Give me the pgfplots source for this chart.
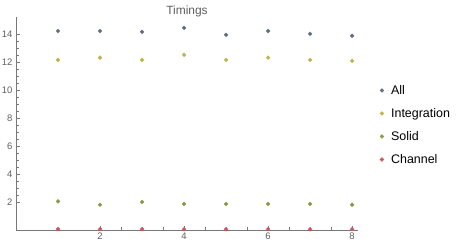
\documentclass[border=0pt]{standalone}
\usepackage{pgfplots}
\pgfplotsset{compat=1.18}
\usepackage{fontspec}
\setmainfont{Liberation Sans}
\definecolor{cAll}{RGB}{100,112,130}
\definecolor{cInt}{RGB}{192,180,75}
\definecolor{cSol}{RGB}{138,155,72}
\definecolor{cCha}{RGB}{205,85,95}
\definecolor{axgray}{RGB}{120,120,120}
\definecolor{txgray}{RGB}{95,95,95}
\begin{document}
\begin{tikzpicture}[x=1bp,y=1bp]
\useasboundingbox (-16bp,-18bp) rectangle (445bp,230bp);
\begin{axis}[
  at={(0,0)}, anchor=south west,
  scale only axis, width=342bp, height=213bp,
  xmin=0, xmax=8.14, ymin=0, ymax=15.2,
  axis x line=bottom, axis y line=left,
  axis line style={-, axgray, line width=0.6pt},
  xtick={2,4,6,8}, ytick={2,4,6,8,10,12,14},
  minor x tick num=3, minor y tick num=3,
  tick align=inside,
  major tick length=4bp, minor tick length=2.5bp,
  tick style={axgray, line width=0.5pt},
  ticklabel style={font=\fontsize{9.5}{11}\selectfont, text=txgray},
  /pgf/number format/assume math mode=true,
  xticklabel style={yshift=1bp},
  every axis title shift=0pt,
  title={Timings}, title style={font=\fontsize{12}{14}\selectfont, text=txgray, at={(0.5,1)}, anchor=base, yshift=3bp},
  legend style={draw=none, fill=none, at={(1.06,0.69)}, anchor=north west,
    font=\fontsize{12.5}{14}\selectfont, row sep=8.5bp, inner sep=0pt,
    nodes={inner xsep=1bp}},
  legend cell align=left,
  legend image code/.code={\draw[#1] plot coordinates {(0bp,0bp)}; \path (-3bp,0bp) (8bp,0bp);},
  clip=false,
]
\addplot[only marks, mark=*, mark size=1.9bp, cAll, mark options={draw=none, fill=cAll}] coordinates {
(1,14.2) (2,14.2) (3,14.14) (4,14.43) (5,13.93) (6,14.2) (7,14.0) (8,13.86)};
\addlegendentry{All}
\addplot[only marks, mark=*, mark size=1.9bp, cInt, mark options={draw=none, fill=cInt}] coordinates {
(1,12.14) (2,12.3) (3,12.14) (4,12.5) (5,12.14) (6,12.3) (7,12.14) (8,12.07)};
\addlegendentry{Integration}
\addplot[only marks, mark=*, mark size=1.9bp, cSol, mark options={draw=none, fill=cSol}] coordinates {
(1,2.04) (2,1.8) (3,2.0) (4,1.86) (5,1.86) (6,1.86) (7,1.86) (8,1.8)};
\addlegendentry{Solid}
\addplot[only marks, mark=*, mark size=1.9bp, cCha, mark options={draw=none, fill=cCha}] coordinates {
(1,0.06) (2,0.06) (3,0.06) (4,0.05) (5,0.05) (6,0.06) (7,0.05) (8,0.06)};
\addlegendentry{Channel}
\end{axis}
\end{tikzpicture}
\end{document}
